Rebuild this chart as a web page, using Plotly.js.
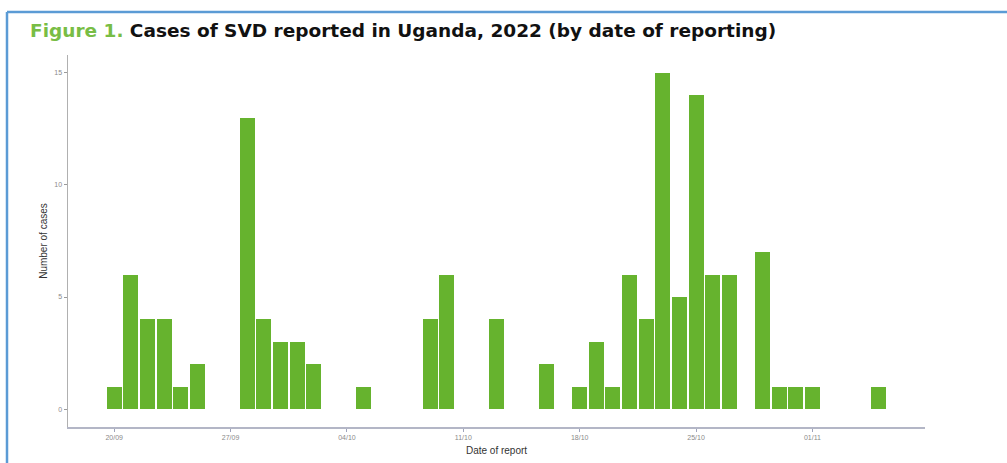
<!DOCTYPE html>
<html>
<head>
<meta charset="utf-8">
<script src="https://cdn.plot.ly/plotly-3.0.1.min.js"></script>
<style>
  html, body { margin: 0; padding: 0; background: #ffffff; }
  #chart { width: 1007px; height: 463px; }
</style>
</head>
<body>
<div id="chart"></div>
<script>
// Date of reporting (2022) and number of SVD cases reported that day
const reportDates = [
  '2022-09-20', '2022-09-21', '2022-09-22', '2022-09-23', '2022-09-24', '2022-09-25',
  '2022-09-28', '2022-09-29', '2022-09-30', '2022-10-01', '2022-10-02',
  '2022-10-05',
  '2022-10-09', '2022-10-10',
  '2022-10-13',
  '2022-10-16',
  '2022-10-18', '2022-10-19', '2022-10-20', '2022-10-21', '2022-10-22',
  '2022-10-23', '2022-10-24', '2022-10-25', '2022-10-26', '2022-10-27',
  '2022-10-29', '2022-10-30', '2022-10-31', '2022-11-01',
  '2022-11-05'
];
const cases = [
  1, 6, 4, 4, 1, 2,
  13, 4, 3, 3, 2,
  1,
  4, 6,
  4,
  2,
  1, 3, 1, 6, 4,
  15, 5, 14, 6, 6,
  7, 1, 1, 1,
  1
];
const yTickValues = [0, 5, 10, 15];
const yTickLabels = ['0', '5', '10', '15'];

const titleText = "<span style='color:#78bd45'>Figure 1.</span> Cases of SVD reported in Uganda, 2022 (by date of reporting)";
const xTitle = 'Date of report';
const yTitle = 'Number of cases';

const DAY = 86400000;

const trace = {
  type: 'bar',
  x: reportDates,
  y: cases,
  width: reportDates.map(() => 0.9 * DAY),
  marker: { color: '#66b32e', line: { width: 0 } },
  hoverinfo: 'x+y'
};

const border = '#5b9bd5';
const layout = {
  width: 1007,
  height: 463,
  margin: { l: 68, r: 82, t: 55, b: 36 },
  paper_bgcolor: '#ffffff',
  plot_bgcolor: '#ffffff',
  showlegend: false,
  bargap: 0,
  title: {
    text: titleText,
    font: { family: 'DejaVu Sans', size: 18.5, color: '#111111', weight: 'bold' },
    x: 30 / 1007, xref: 'container', xanchor: 'left',
    y: 1 - 31 / 463, yref: 'container', yanchor: 'middle'
  },
  xaxis: {
    type: 'date',
    range: ['2022-09-17 05:20', '2022-11-07 18:30'],
    tick0: '2022-09-20',
    dtick: 7 * DAY,
    tickformat: '%d/%m',
    showgrid: false,
    zeroline: false,
    showline: true,
    linecolor: '#b3b6c6',
    linewidth: 1.5,
    ticks: 'outside',
    ticklen: 3,
    tickwidth: 1,
    tickcolor: '#9ea3bb',
    tickfont: { family: 'Liberation Sans, Arial', size: 7, color: '#8a8a8a' },
    title: { text: xTitle, font: { family: 'Liberation Sans, Arial', size: 10, color: '#333333' }, standoff: 7 }
  },
  yaxis: {
    range: [-0.8, 15.8],
    tickvals: yTickValues,
    ticktext: yTickLabels,
    showgrid: false,
    zeroline: false,
    showline: true,
    linecolor: '#b0b0b0',
    linewidth: 1.5,
    ticks: 'outside',
    ticklen: 3,
    tickwidth: 1,
    tickcolor: '#9a9a9a',
    tickfont: { family: 'Liberation Sans, Arial', size: 7, color: '#8a8a8a' },
    title: { text: yTitle, font: { family: 'Liberation Sans, Arial', size: 10, color: '#333333' }, standoff: 5 }
  },
  shapes: [
    { type: 'line', xref: 'paper', yref: 'paper',
      x0: (7 - 68) / 857, x1: (1010 - 68) / 857,
      y0: (427 - 12) / 372, y1: (427 - 12) / 372,
      line: { color: border, width: 2.5 } },
    { type: 'line', xref: 'paper', yref: 'paper',
      x0: (7 - 68) / 857, x1: (7 - 68) / 857,
      y0: (427 - 12) / 372, y1: (427 - 466) / 372,
      line: { color: border, width: 2.5 } }
  ]
};

Plotly.newPlot('chart', [trace], layout, { displayModeBar: false, staticPlot: true });
</script>
</body>
</html>
